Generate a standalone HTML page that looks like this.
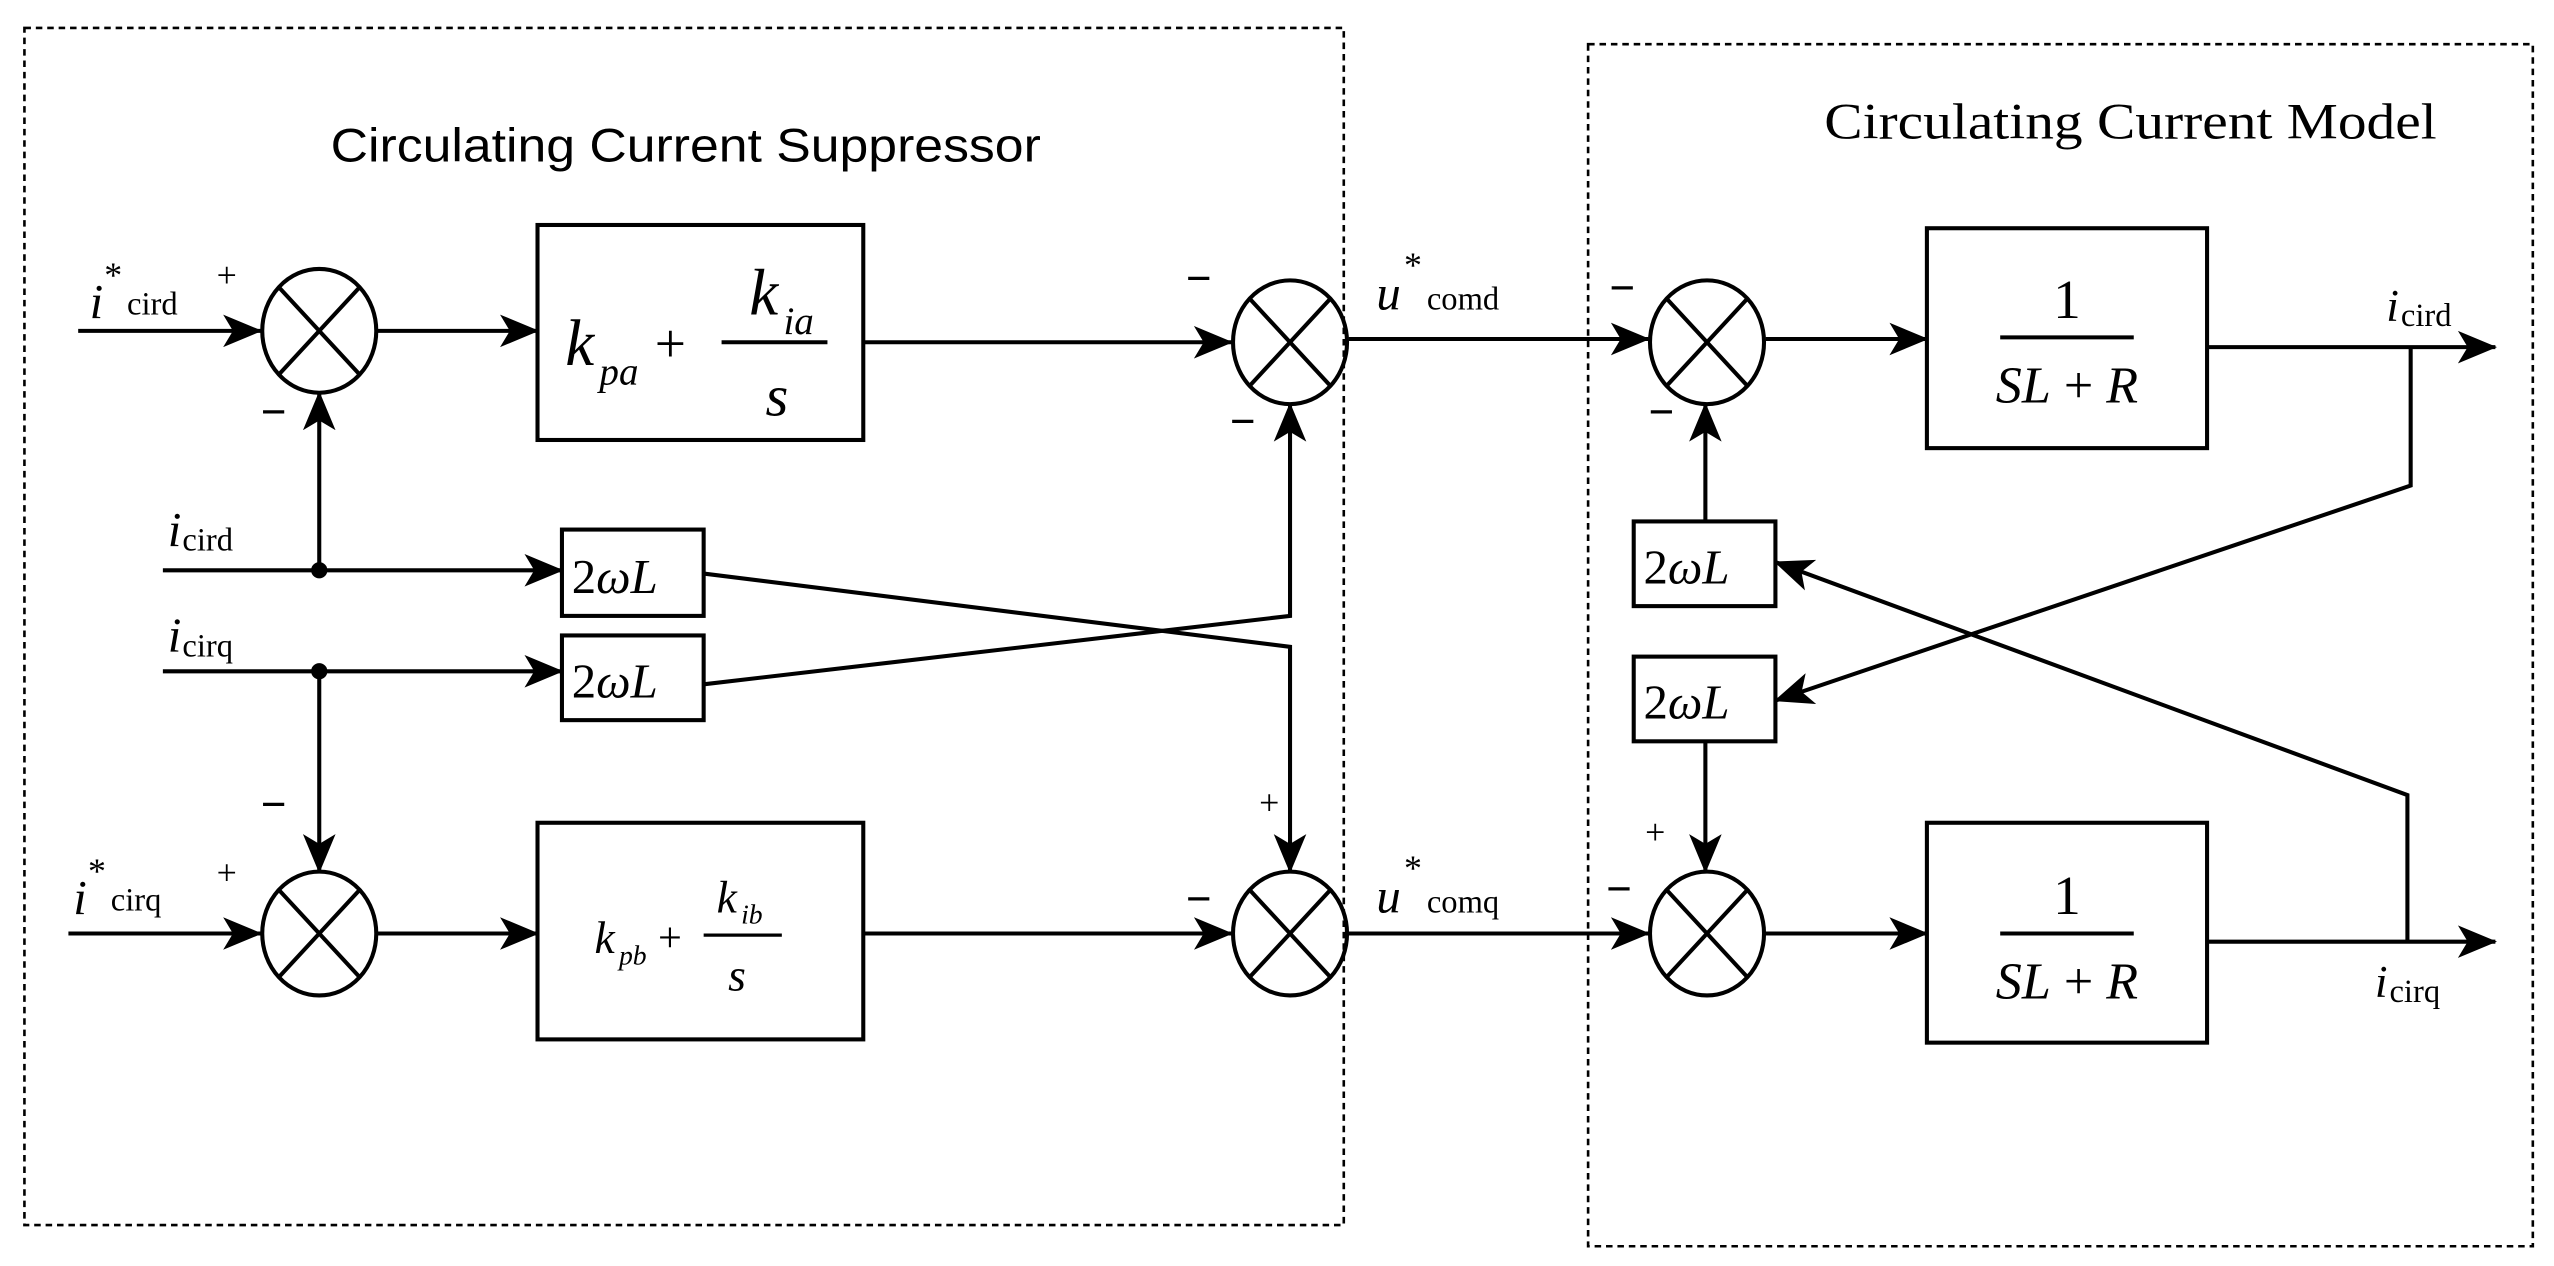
<!DOCTYPE html>
<html><head><meta charset="utf-8"><style>html,body{margin:0;padding:0;background:#fff}svg{display:block}</style></head><body>
<svg width="2554" height="1266" viewBox="0 0 1568 777" xmlns="http://www.w3.org/2000/svg" font-family="Liberation Serif, serif">
<defs>
<marker id="b" markerWidth="24" markerHeight="20" refX="23" refY="10" orient="auto" markerUnits="userSpaceOnUse"><path d="M0,0 L24,10 L0,20 L6,10 Z" fill="#000"/></marker>
<g id="s"><ellipse cx="0" cy="0" rx="35" ry="38"/><path d="M-25,-27 L25,27 M25,-27 L-25,27"/></g>
</defs>
<g fill="none" stroke="#000" stroke-width="1.6" stroke-dasharray="4,3">
<rect x="15" y="17" width="810" height="735"/><rect x="975" y="27" width="580" height="738"/></g>
<text x="421" y="99" font-family="Liberation Sans, sans-serif" font-size="29" text-anchor="middle" textLength="436" lengthAdjust="spacingAndGlyphs">Circulating Current Suppressor</text>
<text x="1308" y="85" font-size="31" text-anchor="middle" textLength="376" lengthAdjust="spacingAndGlyphs">Circulating Current Model</text>
<g fill="none" stroke="#000" stroke-width="2.5">
<rect x="330" y="138" width="200" height="132"/><rect x="330" y="505" width="200" height="133"/>
<rect x="345" y="325" width="87" height="53"/><rect x="345" y="390" width="87" height="52"/>
<rect x="1183" y="140" width="172" height="135"/><rect x="1183" y="505" width="172" height="135"/>
<rect x="1003" y="320" width="87" height="52"/><rect x="1003" y="403" width="87" height="52"/>
</g>
<g fill="none" stroke="#000" stroke-width="2.5">
<use href="#s" x="196" y="203"/><use href="#s" x="792" y="210"/><use href="#s" x="196" y="573"/><use href="#s" x="792" y="573"/>
<use href="#s" x="1048" y="210"/><use href="#s" x="1048" y="573"/>
</g>
<g fill="none" stroke="#000" stroke-width="2.5" marker-end="url(#b)">
<path d="M48,203 L160,203"/><path d="M231,203 L330,203"/><path d="M530,210 L756,210"/>
<path d="M42,573 L160,573"/><path d="M231,573 L330,573"/><path d="M530,573 L756,573"/>
<path d="M196,350 L196,241"/><path d="M196,412 L196,535"/>
<path d="M100,350 L345,350"/><path d="M100,412 L345,412"/>
<path d="M432,352 L792,397 L792,535"/><path d="M432,420 L792,378 L792,248"/>
<path d="M828,208 L1012,208"/><path d="M828,573 L1012,573"/>
<path d="M1084,208 L1183,208"/><path d="M1084,573 L1183,573"/>
<path d="M1355,213 L1532,213"/><path d="M1355,578 L1532,578"/>
<path d="M1480,213 L1480,298 L1090,430"/><path d="M1478,578 L1478,488 L1090,345"/>
<path d="M1047,320 L1047,248"/><path d="M1047,455 L1047,535"/>
</g>
<circle cx="196" cy="350" r="5"/><circle cx="196" cy="412" r="5"/>
<g font-size="26">
<text x="55" y="195" font-style="italic" font-size="30">i</text><text x="64" y="176" font-size="22">*</text><text x="78" y="193" font-size="20">cird</text>
<text x="133" y="176" font-size="22">+</text><text x="160" y="262" font-size="28" font-weight="bold">−</text>
<text x="103" y="335" font-style="italic" font-size="30">i</text><text x="112" y="338" font-size="20">cird</text>
<text x="103" y="400" font-style="italic" font-size="30">i</text><text x="112" y="403" font-size="20">cirq</text>
<text x="160" y="503" font-size="28" font-weight="bold">−</text><text x="133" y="543" font-size="22">+</text>
<text x="45" y="561" font-style="italic" font-size="30">i</text><text x="54" y="542" font-size="22">*</text><text x="68" y="559" font-size="20">cirq</text>
<text x="728" y="180" font-size="28" font-weight="bold">−</text><text x="755" y="268" font-size="28" font-weight="bold">−</text>
<text x="773" y="500" font-size="22">+</text><text x="728" y="561" font-size="28" font-weight="bold">−</text>
<text x="845" y="190" font-style="italic" font-size="30">u</text><text x="862" y="170" font-size="22">*</text><text x="876" y="190" font-size="20">comd</text>
<text x="845" y="560" font-style="italic" font-size="30">u</text><text x="862" y="540" font-size="22">*</text><text x="876" y="560" font-size="20">comq</text>
<text x="988" y="186" font-size="28" font-weight="bold">−</text><text x="1012" y="262" font-size="28" font-weight="bold">−</text>
<text x="1010" y="518" font-size="22">+</text><text x="986" y="555" font-size="28" font-weight="bold">−</text>
<text x="1465" y="197" font-style="italic" font-size="28">i</text><text x="1474" y="200" font-size="20">cird</text>
<text x="1458" y="612" font-style="italic" font-size="28">i</text><text x="1467" y="615" font-size="20">cirq</text>
<text x="351" y="364" font-size="30">2<tspan font-style="italic">ωL</tspan></text>
<text x="351" y="428" font-size="30">2<tspan font-style="italic">ωL</tspan></text>
<text x="1009" y="358" font-size="30">2<tspan font-style="italic">ωL</tspan></text>
<text x="1009" y="441" font-size="30">2<tspan font-style="italic">ωL</tspan></text>
<text x="347" y="224" font-style="italic" font-size="40">k</text><text x="368" y="236" font-style="italic" font-size="24">pa</text>
<text x="402" y="222" font-size="34">+</text>
<text x="460" y="193" font-style="italic" font-size="40">k</text><text x="481" y="205" font-style="italic" font-size="24">ia</text>
<line x1="443" y1="210" x2="508" y2="210" stroke="#000" stroke-width="2.5"/>
<text x="470" y="255" font-style="italic" font-size="36">s</text>
<text x="365" y="585" font-style="italic" font-size="28">k</text><text x="380" y="592" font-style="italic" font-size="17">pb</text>
<text x="404" y="584" font-size="26">+</text>
<text x="440" y="560" font-style="italic" font-size="28">k</text><text x="455" y="567" font-size="17" font-style="italic">ib</text>
<line x1="432" y1="574" x2="480" y2="574" stroke="#000" stroke-width="2"/>
<text x="447" y="608" font-style="italic" font-size="28">s</text>
<text x="1269" y="195" font-size="34" text-anchor="middle">1</text>
<line x1="1228" y1="207" x2="1310" y2="207" stroke="#000" stroke-width="2.5"/>
<text x="1269" y="247" font-size="32" text-anchor="middle"><tspan font-style="italic">SL</tspan> + <tspan font-style="italic">R</tspan></text>
<text x="1269" y="561" font-size="34" text-anchor="middle">1</text>
<line x1="1228" y1="573" x2="1310" y2="573" stroke="#000" stroke-width="2.5"/>
<text x="1269" y="613" font-size="32" text-anchor="middle"><tspan font-style="italic">SL</tspan> + <tspan font-style="italic">R</tspan></text>
</g>
</svg>
</body></html>
